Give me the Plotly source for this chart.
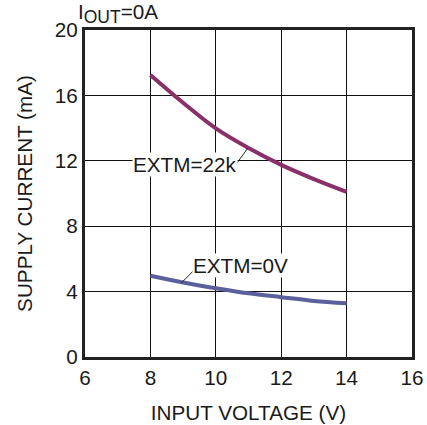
import plotly.graph_objects as go

# Input voltage sweep (V)
vin = [8, 9, 10, 11, 12, 13, 14]
# Supply current (mA) for the two EXTM settings
i_extm_22k = [17.25, 15.55, 13.98, 12.78, 11.75, 10.88, 10.10]
i_extm_0v = [4.97, 4.56, 4.21, 3.90, 3.66, 3.43, 3.29]

x_ticks = [6, 8, 10, 12, 14, 16]
y_ticks = [0, 4, 8, 12, 16, 20]

FONT = "Liberation Sans, Arial, sans-serif"
FS = 20.7
TXT = "#1a1a1a"
COL_22K = "#8A3068"
COL_0V = "#5B5F9C"

fig = go.Figure()
fig.add_trace(go.Scatter(x=vin, y=i_extm_22k, mode="lines",
                         line=dict(color=COL_22K, width=4, shape="spline"),
                         showlegend=False))
fig.add_trace(go.Scatter(x=vin, y=i_extm_0v, mode="lines",
                         line=dict(color=COL_0V, width=4, shape="spline"),
                         showlegend=False))

# leader lines from the labels to their curves
fig.add_shape(type="line", x0=10.65, y0=11.87, x1=10.97, y1=12.75,
              line=dict(color="#222", width=1))
fig.add_shape(type="line", x0=9.31, y0=5.26, x1=8.95, y1=4.54,
              line=dict(color="#222", width=1))

fig.add_annotation(x=9.06, y=11.8, text="EXTM=22k", showarrow=False,
                   font=dict(size=FS, color=TXT, family=FONT),
                   bgcolor="white", borderpad=0)
fig.add_annotation(x=10.77, y=5.57, text="EXTM=0V", showarrow=False,
                   font=dict(size=FS, color=TXT, family=FONT),
                   bgcolor="white", borderpad=0)

fig.add_annotation(xref="paper", yref="paper", x=-0.026, y=1.004,
                   xanchor="left", yanchor="bottom",
                   text="I<sub><span style='font-size:17.5px'>OUT</span></sub>=0A",
                   showarrow=False,
                   font=dict(size=FS, color=TXT, family=FONT))

axis_common = dict(showgrid=True, gridcolor="#111", gridwidth=1,
                   showline=True, linecolor="#222", linewidth=3, mirror=True,
                   ticks="", zeroline=False, automargin=False,
                   tickfont=dict(size=FS, color=TXT, family=FONT))

fig.update_xaxes(range=[6, 16], tickvals=x_ticks,
                 title=dict(text="INPUT VOLTAGE (V)", standoff=18,
                            font=dict(size=FS, color=TXT, family=FONT)),
                 **axis_common)
fig.update_yaxes(range=[0, 20], tickvals=y_ticks,
                 title=dict(text="SUPPLY CURRENT (mA)", standoff=17,
                            font=dict(size=FS, color=TXT, family=FONT)),
                 **axis_common)

fig.update_layout(width=427, height=425,
                  margin=dict(l=85, r=15, t=30, b=68),
                  plot_bgcolor="white", paper_bgcolor="white")

fig.write_html("out.html")
